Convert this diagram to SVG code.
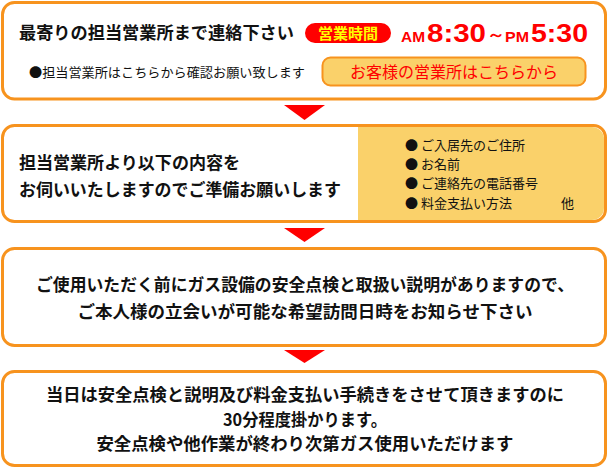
<svg xmlns="http://www.w3.org/2000/svg" width="612" height="469" viewBox="0 0 612 469">
<style>
.box{fill:#fff;stroke:#f7931e;stroke-width:3}
.arr{fill:#ff0000}
.t{font-family:"Noto Sans CJK JP","Noto Sans",sans-serif;fill:#111}
.b{font-weight:bold}
</style>
<rect width="612" height="469" fill="#fff"/>
<g id="connectors">
<polygon class="arr" points="284,105 325,105 304.5,120"/>
<polygon class="arr" points="284,228 325,228 304.5,242"/>
<polygon class="arr" points="284,350 325,350 304.5,363"/>
</g>
<g id="step1">
<rect class="box" x="2.5" y="2.5" width="603" height="96.5" rx="12"/>
<text class="t b" x="19" y="39" font-size="17" textLength="275" lengthAdjust="spacingAndGlyphs">最寄りの担当営業所まで連絡下さい</text>
<rect x="305" y="23" width="86" height="20" rx="10" fill="#ff0000"/>
<text class="t b" x="348" y="39" font-size="15" fill="#ffff00" style="fill:#ffff00" text-anchor="middle">営業時間</text>
<g font-family="'Liberation Sans',Arial,sans-serif" font-weight="bold" fill="#ff0000">
<text x="401" y="42" font-size="15" textLength="24" lengthAdjust="spacingAndGlyphs">AM</text>
<text x="427" y="42" font-size="26" textLength="59" lengthAdjust="spacingAndGlyphs">8:30</text>
<text x="487" y="40" font-size="16" textLength="18" lengthAdjust="spacingAndGlyphs">～</text>
<text x="505" y="42" font-size="15" textLength="24" lengthAdjust="spacingAndGlyphs">PM</text>
<text x="531" y="42" font-size="26" textLength="57" lengthAdjust="spacingAndGlyphs">5:30</text>
</g>
<text class="t" x="29" y="77" font-size="13" textLength="276" lengthAdjust="spacingAndGlyphs">●担当営業所はこちらから確認お願い致します</text>
<rect x="322.5" y="57.5" width="263" height="28" rx="8" fill="#fad16a" stroke="#f7931e" stroke-width="2"/>
<text class="t" x="454" y="78" font-size="16" style="fill:#ff0000" text-anchor="middle" textLength="208" lengthAdjust="spacingAndGlyphs">お客様の営業所はこちらから</text>
</g>
<g id="step2">
<rect class="box" x="2.5" y="125.5" width="603" height="96" rx="12"/>
<path d="M358,127 H592 A12,12 0 0 1 604,139 V208 A12,12 0 0 1 592,220 H358 Z" fill="#fad16a"/>
<text class="t b" x="19" y="169" font-size="17" textLength="221" lengthAdjust="spacingAndGlyphs">担当営業所より以下の内容を</text>
<text class="t b" x="19" y="196" font-size="17" textLength="322" lengthAdjust="spacingAndGlyphs">お伺いいたしますのでご準備お願いします</text>
<g class="t" font-size="13">
<text x="405" y="150">●</text><text x="421" y="150">ご入居先のご住所</text>
<text x="405" y="169">●</text><text x="421" y="169">お名前</text>
<text x="405" y="188">●</text><text x="421" y="188">ご連絡先の電話番号</text>
<text x="405" y="208">●</text><text x="421" y="208">料金支払い方法</text>
<text x="561" y="208">他</text>
</g>
</g>
<g id="step3">
<rect class="box" x="2.5" y="248.5" width="603" height="97" rx="12"/>
<text class="t b" x="305" y="291" font-size="17" text-anchor="middle" textLength="538" lengthAdjust="spacingAndGlyphs">ご使用いただく前にガス設備の安全点検と取扱い説明がありますので、</text>
<text class="t b" x="305" y="318" font-size="17" text-anchor="middle" textLength="455" lengthAdjust="spacingAndGlyphs">ご本人様の立会いが可能な希望訪問日時をお知らせ下さい</text>
</g>
<g id="step4">
<rect class="box" x="2.5" y="371.5" width="603" height="94" rx="12"/>
<text class="t b" x="305" y="401" font-size="17" text-anchor="middle" textLength="518" lengthAdjust="spacingAndGlyphs">当日は安全点検と説明及び料金支払い手続きをさせて頂きますのに</text>
<text class="t b" x="305" y="426" font-size="17" text-anchor="middle" textLength="164" lengthAdjust="spacingAndGlyphs">30分程度掛かります。</text>
<text class="t b" x="305" y="450" font-size="17" text-anchor="middle" textLength="417" lengthAdjust="spacingAndGlyphs">安全点検や他作業が終わり次第ガス使用いただけます</text>
</g>
</svg>
